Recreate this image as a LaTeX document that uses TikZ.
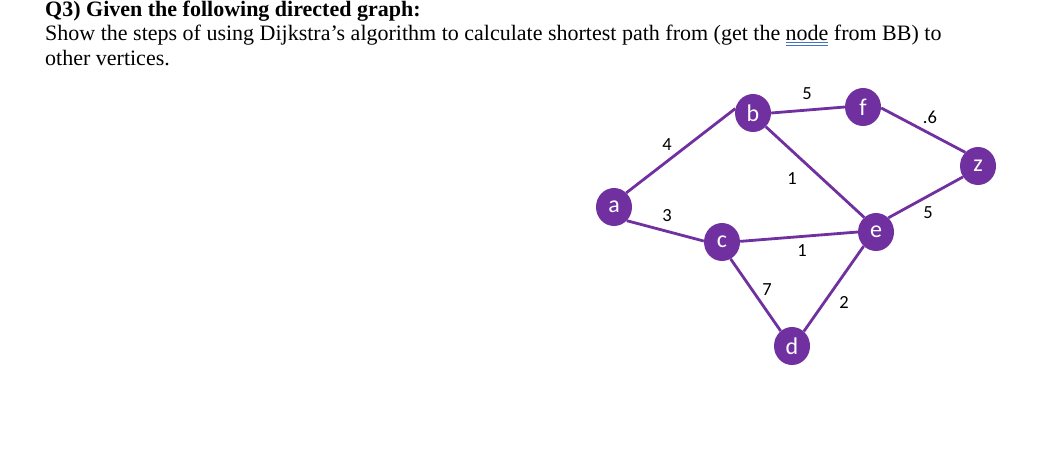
\documentclass[tikz,border=0pt]{standalone}
\usepackage{fontspec}
\usetikzlibrary{shapes.geometric}
\setmainfont{Liberation Serif}
\newfontfamily\calib{Carlito}
\definecolor{wordpurple}{HTML}{7030A0}
\definecolor{ulblue}{HTML}{4472C4}
\newcommand\dblul[1]{\setbox0\hbox{#1}\rlap{\color{ulblue}\rule[-2.2pt]{\wd0}{0.9pt}}\rlap{\color{ulblue}\rule[-4.6pt]{\wd0}{0.9pt}}\box0\relax}
\tikzset{
  vert/.style={ellipse, fill=wordpurple, draw=none, minimum width=36pt, minimum height=38pt, inner sep=0pt, text=white, font=\calib\fontsize{24}{24}\selectfont},
  edge/.style={draw=wordpurple, line width=2.8pt},
  wlabel/.style={inner sep=0pt, text=black, font=\calib\fontsize{18.5}{18.5}\selectfont},
  txt/.style={anchor=base west, inner sep=0pt, font=\fontsize{22}{26}\selectfont}
}
\begin{document}
\begin{tikzpicture}[x=1pt,y=-1pt]
\useasboundingbox (0,0) rectangle (1040,452);
\fill[white] (0,0) rectangle (1040,452);
% text
\node[txt, font=\bfseries\fontsize{22}{26}\selectfont] (t1) at (45,17) {Q3) Given the following directed graph:};
\node[txt] (t2) at (45,41) {Show the steps of using Dijkstra’s algorithm to calculate shortest path from (get the \dblul{node} from BB) to};
\node[txt] (t3) at (45,66) {other vertices.};
% vertices
\node[vert] (a) at (614,207) {a};
\node[vert] (b) at (753,113) {b};
\node[vert] (f) at (863,107) {f};
\node[vert] (z) at (978,166) {z};
\node[vert] (e) at (876,232) {e};
\node[vert] (c) at (722,242) {c};
\node[vert] (d) at (792,346) {d};
% edges
\draw[edge] (a.49) -- (b.166);
\draw[edge] (a.-47) -- (c.177);
\draw[edge] (b.0) -- (f.180);
\draw[edge] (b.-47) -- (e.129);
\draw[edge] (c.2) -- (e.180);
\draw[edge] (c.-63) -- (d.127);
\draw[edge] (d.51) -- (e.229);
\draw[edge] (f.-3) -- (z.133);
\draw[edge] (e.49) -- (z.216);
% weights
\node[wlabel] (wab) at (667,145) {4};
\node[wlabel] (wac) at (667,216) {3};
\node[wlabel] (wbf) at (807,94) {5};
\node[wlabel] (wbe) at (792,179) {1};
\node[wlabel] (wce) at (802,251) {1};
\node[wlabel] (wde) at (844,302) {2};
\node[wlabel] (wcd) at (767,290) {7};
\node[wlabel] (wfz) at (930,117) {.6};
\node[wlabel] (wez) at (928,213) {5};
\end{tikzpicture}
\end{document}
